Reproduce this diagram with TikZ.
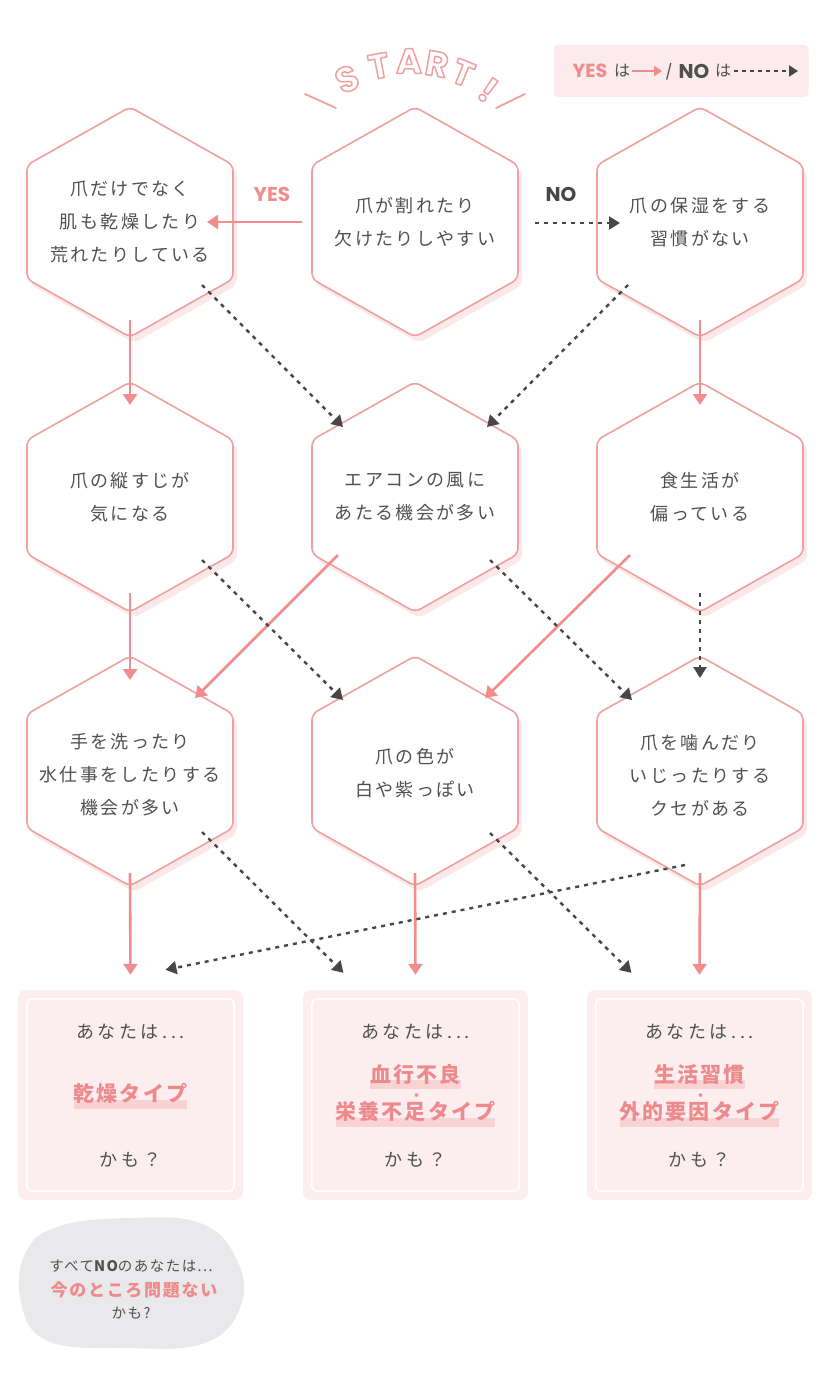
\documentclass[tikz,border=0pt]{standalone}
\usepackage{fontspec}
\setmainfont{Noto Sans CJK JP}
\newfontfamily\pop{Poppins}
\newfontfamily\jpA{Noto Sans CJK JP}[LetterSpace=13]
\newfontfamily\jpB{Noto Sans CJK JP}[LetterSpace=20]
\newfontfamily\jpC{Noto Sans CJK JP}[LetterSpace=10]
\usetikzlibrary{arrows.meta,calc}
\definecolor{pk}{HTML}{EFA09F}
\definecolor{pka}{HTML}{F28D8D}
\definecolor{pkt}{HTML}{EE8A8B}
\definecolor{pkshadow}{HTML}{FBE9E9}
\definecolor{boxfill}{HTML}{FCEEEF}
\definecolor{band}{HTML}{F9D3D4}
\definecolor{dk}{HTML}{505050}
\definecolor{dka}{HTML}{474747}
\definecolor{blobc}{HTML}{E9E9EB}
\definecolor{legc}{HTML}{FCEBEC}
\newcommand\hl[1]{\setbox0=\hbox{#1}\rlap{\textcolor{band}{\rule[-0.33em]{\wd0}{0.43em}}}\box0}
\newcommand\outl[1]{\special{pdf:literal direct 1 Tr 1.5 w 1 j}#1\special{pdf:literal direct 0 Tr}}
\newcommand\hexat[1]{%
 \fill[pkshadow, rounded corners=6pt, shift={(#1)}, xshift=4pt, yshift=-6pt]
   (0,-115) -- (103,-57) -- (103,57) -- (0,115) -- (-103,57) -- (-103,-57) -- cycle;
 \filldraw[fill=white, draw=pk, line width=1.6pt, rounded corners=6pt, shift={(#1)}]
   (0,-115) -- (103,-57) -- (103,57) -- (0,115) -- (-103,57) -- (-103,-57) -- cycle;}
\tikzset{
 hextext/.style={font=\jpA\fontsize{18}{33}\selectfont, text=dk, align=center, inner sep=0pt},
 yes/.style={draw=pka, line width=2.6pt, -{Triangle[length=11pt,width=14pt]}},
 no/.style={draw=dka, line width=2.4pt, dash pattern=on 4pt off 5pt, -{Triangle[length=11pt,width=13pt]}},
 resbox/.style={fill=boxfill, rounded corners=8pt, minimum width=225pt, minimum height=210pt, inner sep=0pt},
 restext/.style={font=\jpB\fontsize{18}{20}\selectfont, text=dk, inner sep=0pt},
 typetext/.style={font=\jpC\bfseries\fontsize{21}{24}\selectfont, text=pkt, inner sep=0pt},
 startl/.style={font=\pop\bfseries\fontsize{35}{35}\selectfont, text=pk, inner sep=0pt},
}
\begin{document}
\begin{tikzpicture}[x=1pt,y=-1pt]
\useasboundingbox (0,0) rectangle (830,1394);
\fill[white] (0,0) rectangle (830,1394);

% START title
\node[startl, rotate=24] (s1) at (347,79) {\outl{S}};
\node[startl, rotate=11] (s2) at (379,66) {\outl{T}};
\node[startl, rotate=0] (s3) at (409,61) {\outl{A}};
\node[startl, rotate=-10] (s4) at (437,64) {\outl{R}};
\node[startl, rotate=-22] (s5) at (463,73) {\outl{T}};
\node[startl, rotate=-35] (s6) at (488,90) {\outl{!}};
\draw[pk, line width=1.8pt, line cap=round] (305,94) -- (336,108);
\draw[pk, line width=1.8pt, line cap=round] (496,108) -- (525,94);

% legend
\node[fill=legc, rounded corners=4pt, minimum width=255pt, minimum height=52pt, inner sep=0pt] (leg) at (681,71) {};
\node[font=\pop\bfseries\fontsize{19}{19}\selectfont, text=pka, inner sep=0pt] (lyes) at (590,71) {YES};
\node[font=\jpA\fontsize{16}{16}\selectfont, text=dk, inner sep=0pt] (lha1) at (622,71) {は};
\coordinate (la1) at (632,71);
\coordinate (la2) at (662,71);
\draw[draw=pka, line width=1.8pt, -{Triangle[length=8pt,width=10pt]}] (la1) -- (la2);
\node[font=\pop\fontsize{15}{15}\selectfont, text=dk, inner sep=0pt] (lsl) at (669,72) {/};
\node[font=\pop\bfseries\fontsize{20}{20}\selectfont, text=dk, inner sep=0pt] (lno) at (694,71) {NO};
\node[font=\jpA\fontsize{16}{16}\selectfont, text=dk, inner sep=0pt] (lha2) at (723,71) {は};
\coordinate (lb1) at (734,71);
\coordinate (lb2) at (798,71);
\draw[draw=dka, line width=2pt, dash pattern=on 4pt off 4pt, -{Triangle[length=9pt,width=11pt]}] (lb1) -- (lb2);

% hexagon centres
\coordinate (c1) at (130,222);
\coordinate (c2) at (415,222);
\coordinate (c3) at (700,222);
\coordinate (c4) at (130,497);
\coordinate (c5) at (415,497);
\coordinate (c6) at (700,497);
\coordinate (c7) at (130,771);
\coordinate (c8) at (415,771);
\coordinate (c9) at (700,771);
\hexat{c1}\hexat{c2}\hexat{c3}\hexat{c4}\hexat{c5}\hexat{c6}\hexat{c7}\hexat{c8}\hexat{c9}

\node[hextext] (h1) at (c1) {爪だけでなく\\肌も乾燥したり\\荒れたりしている};
\node[hextext] (h2) at (c2) {爪が割れたり\\欠けたりしやすい};
\node[hextext] (h3) at (c3) {爪の保湿をする\\習慣がない};
\node[hextext] (h4) at (c4) {爪の縦すじが\\気になる};
\node[hextext] (h5) at (c5) {エアコンの風に\\あたる機会が多い};
\node[hextext] (h6) at (c6) {食生活が\\偏っている};
\node[hextext] (h7) at ($(c7)+(0,4)$) {手を洗ったり\\水仕事をしたりする\\機会が多い};
\node[hextext] (h8) at ($(c8)+(0,2)$) {爪の色が\\白や紫っぽい};
\node[hextext] (h9) at ($(c9)+(0,4)$) {爪を噛んだり\\いじったりする\\クセがある};

% result boxes
\node[resbox] (r1) at (130.5,1095) {};
\node[resbox] (r2) at (415.5,1095) {};
\node[resbox] (r3) at (699.5,1095) {};
\foreach \r in {r1,r2,r3}{
  \draw[white, line width=1.5pt, rounded corners=6pt] ($(\r.south west)+(9,-9)$) rectangle ($(\r.north east)+(-9,9)$);
}
\node[restext] (r1a) at ($(r1)+(0,-63)$) {あなたは...};
\node[typetext] (r1b) at ($(r1)+(0,1)$) {\hl{乾燥タイプ}};
\node[restext] (r1c) at ($(r1)+(0,65)$) {かも？};
\node[restext] (r2a) at ($(r2)+(0,-63)$) {あなたは...};
\node[typetext] (r2b) at ($(r2)+(0,-18)$) {\hl{血行不良}};
\node[font=\jpA\bfseries\fontsize{13}{13}\selectfont, text=pkt, inner sep=0pt] (r2d) at ($(r2)+(1,2)$) {・};
\node[typetext] (r2e) at ($(r2)+(0,19)$) {\hl{栄養不足タイプ}};
\node[restext] (r2c) at ($(r2)+(0,65)$) {かも？};
\node[restext] (r3a) at ($(r3)+(0,-63)$) {あなたは...};
\node[typetext] (r3b) at ($(r3)+(0,-18)$) {\hl{生活習慣}};
\node[font=\jpA\bfseries\fontsize{13}{13}\selectfont, text=pkt, inner sep=0pt] (r3d) at ($(r3)+(1,2)$) {・};
\node[typetext] (r3e) at ($(r3)+(0,19)$) {\hl{外的要因タイプ}};
\node[restext] (r3c) at ($(r3)+(0,65)$) {かも？};

% blob
\fill[blobc] plot[smooth cycle, tension=0.7] coordinates {(60,1226) (130,1218) (200,1223) (236,1258) (241,1305) (205,1343) (125,1348) (48,1341) (21,1302) (26,1252)};
\node[font=\jpC\fontsize{14.5}{14.5}\selectfont, text=dk, inner sep=0pt] (b1) at (131,1266) {すべて{\bfseries NO}のあなたは...};
\node[font=\jpC\bfseries\fontsize{17}{17}\selectfont, text=pkt, inner sep=0pt] (b2) at (134,1290) {今のところ問題ない};
\node[font=\jpC\fontsize{14.5}{14.5}\selectfont, text=dk, inner sep=0pt] (b3) at (131,1313) {かも?};

% labels
\node[font=\pop\bfseries\fontsize{20}{20}\selectfont, text=pka, inner sep=0pt] (yeslbl) at (272,194) {YES};
\node[font=\pop\bfseries\fontsize{20}{20}\selectfont, text=dka, inner sep=0pt] (nolbl) at (561,194) {NO};

% YES arrows
\draw[yes] ($(h2)+(-113,0)$) -- ($(h1)+(77,0)$);
\draw[yes] ($(h1)+(0,98)$) -- ($(h4)+(0,-92)$);
\draw[yes] ($(h3)+(0,98)$) -- ($(h6)+(0,-92)$);
\draw[yes] ($(h4)+(0,96)$) -- ($(c7)+(0,-91)$);
\draw[yes] ($(h5)+(-77,58)$) -- ($(c7)+(65,-73)$);
\draw[yes] ($(h6)+(-70,58)$) -- ($(c8)+(70,-73)$);
\draw[yes] ($(c7)+(0,102)$) -- ($(r1.north)+(0,-15)$);
\draw[yes] ($(c8)+(0,102)$) -- ($(r2.north)+(0,-15)$);
\draw[yes] ($(c9)+(0,102)$) -- ($(r3.north)+(0,-15)$);

% NO arrows
\draw[no] ($(h2)+(120,1)$) -- ($(h3)+(-80,1)$);
\draw[no] ($(h1)+(72,63)$) -- ($(h5)+(-72,-70)$);
\draw[no] ($(h3)+(-72,63)$) -- ($(h5)+(72,-70)$);
\draw[no] ($(h4)+(72,63)$) -- ($(c8)+(-72,-71)$);
\draw[no] ($(h5)+(75,63)$) -- ($(c9)+(-68,-71)$);
\draw[no] ($(h6)+(0,96)$) -- ($(c9)+(0,-93)$);
\draw[no] ($(c7)+(72,61)$) -- ($(r2.north)+(-72,-17)$);
\draw[no] ($(c8)+(75,62)$) -- ($(r3.north)+(-68,-17)$);
\draw[no] ($(c9)+(-15,94)$) -- ($(r1.north)+(35,-20)$);
\end{tikzpicture}
\end{document}
